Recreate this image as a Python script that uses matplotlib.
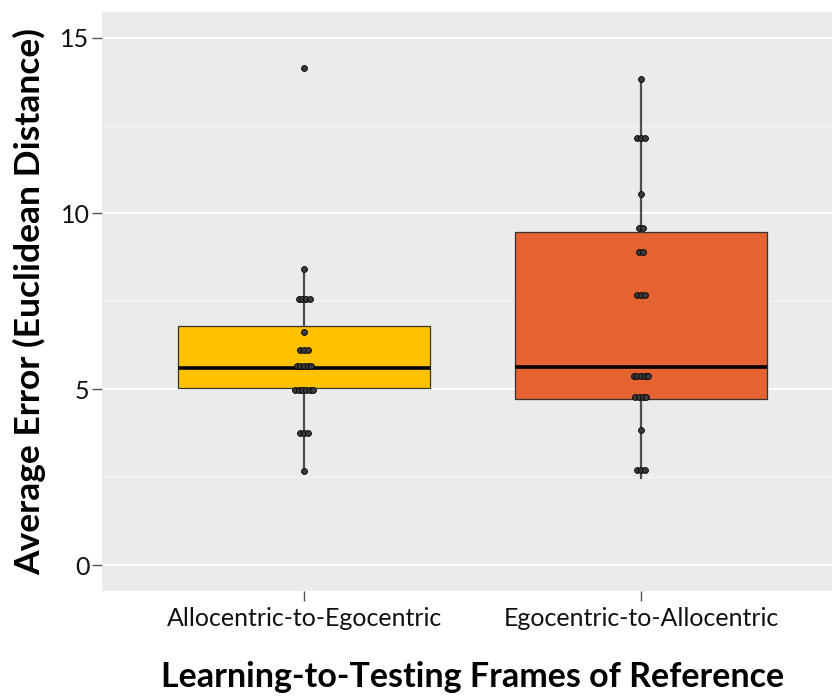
import matplotlib
matplotlib.use('Agg')
import matplotlib.pyplot as plt
import numpy as np
from collections import Counter

# categories and colours
groups = ['Allocentric-to-Egocentric', 'Egocentric-to-Allocentric']
box_colors = ['#FFC100', '#E46331']

# box statistics
whislo = [2.67, 2.48]
q1 = [5.03, 4.72]
med = [5.60, 5.62]
q3 = [6.79, 9.46]
whishi = [8.41, 13.83]

# individual participant points (binned dot positions)
allo_ego = [14.15, 8.41, 7.56, 7.56, 7.56, 7.56, 6.62, 6.11, 6.11, 6.11,
            5.66, 5.66, 5.66, 5.66, 5.66, 4.97, 4.97, 4.97, 4.97, 4.97, 4.97,
            3.75, 3.75, 3.75, 2.67]
ego_allo = [13.83, 12.16, 12.16, 12.16, 10.54, 9.60, 9.60, 8.89, 8.89,
            7.67, 7.67, 7.67, 5.37, 5.37, 5.37, 5.37, 5.37,
            4.77, 4.77, 4.77, 4.77, 3.84, 2.69, 2.69, 2.69]
points = [allo_ego, ego_allo]

yticks = [0, 5, 10, 15]

fig = plt.figure(figsize=(8.32, 7.0), dpi=100)
ax = fig.add_axes([102 / 832, 1 - 590.7 / 700, (843 - 102) / 832, (590.7 - 12) / 700])
ax.set_facecolor('#EBEBEB')

# grid
for v in np.arange(0, 16, 2.5):
    if v % 5 == 0:
        ax.axhline(v, color='white', lw=1.3, zorder=0)
    else:
        ax.axhline(v, color='#F7F7F7', lw=0.7, zorder=0)

stats = []
for i in range(len(groups)):
    stats.append(dict(whislo=whislo[i], q1=q1[i], med=med[i], q3=q3[i],
                      whishi=whishi[i], fliers=[]))

bp = ax.bxp(stats, positions=[1, 2], widths=0.75, patch_artist=True,
            showfliers=False, showcaps=False,
            boxprops=dict(edgecolor='#333333', linewidth=0.9),
            whiskerprops=dict(color='#4D4D4D', linewidth=1.6),
            medianprops=dict(color='black', linewidth=2.6),
            zorder=2)
for patch, c in zip(bp['boxes'], box_colors):
    patch.set_facecolor(c)

# stacked dots, centred on each group
spacing = 3.7 / 337.0
for i, vals in enumerate(points):
    counts = Counter(vals)
    xs, ys = [], []
    for v, k in counts.items():
        for j in range(k):
            xs.append(i + 1 + (j - (k - 1) / 2) * spacing)
            ys.append(v)
    ax.scatter(xs, ys, s=18, facecolor='#3A3A3A', edgecolor='black',
               linewidth=0.6, zorder=4)

ax.set_xlim(0.4, 2.6)
ax.set_ylim(-0.73, 15.73)
ax.set_xticks([1, 2])
ax.set_xticklabels(groups)
ax.set_yticks(yticks)
ax.set_yticklabels([str(t) for t in yticks])
for s in ax.spines.values():
    s.set_visible(False)
ax.tick_params(axis='both', length=7, width=1, color='#555555',
               labelsize=18, labelcolor='#111111')
ax.tick_params(axis='y', pad=2)
ax.tick_params(axis='x', pad=5)
for lab in ax.get_xticklabels() + ax.get_yticklabels():
    lab.set_fontfamily('Lato')

ax.set_xlabel('Learning-to-Testing Frames of Reference', fontsize=24.5,
              fontweight='bold', fontfamily='Lato', labelpad=22)
ax.set_ylabel('Average Error (Euclidean Distance)', fontsize=25.5,
              fontweight='bold', fontfamily='Lato', labelpad=10)

fig.savefig('out.png', dpi=100)
